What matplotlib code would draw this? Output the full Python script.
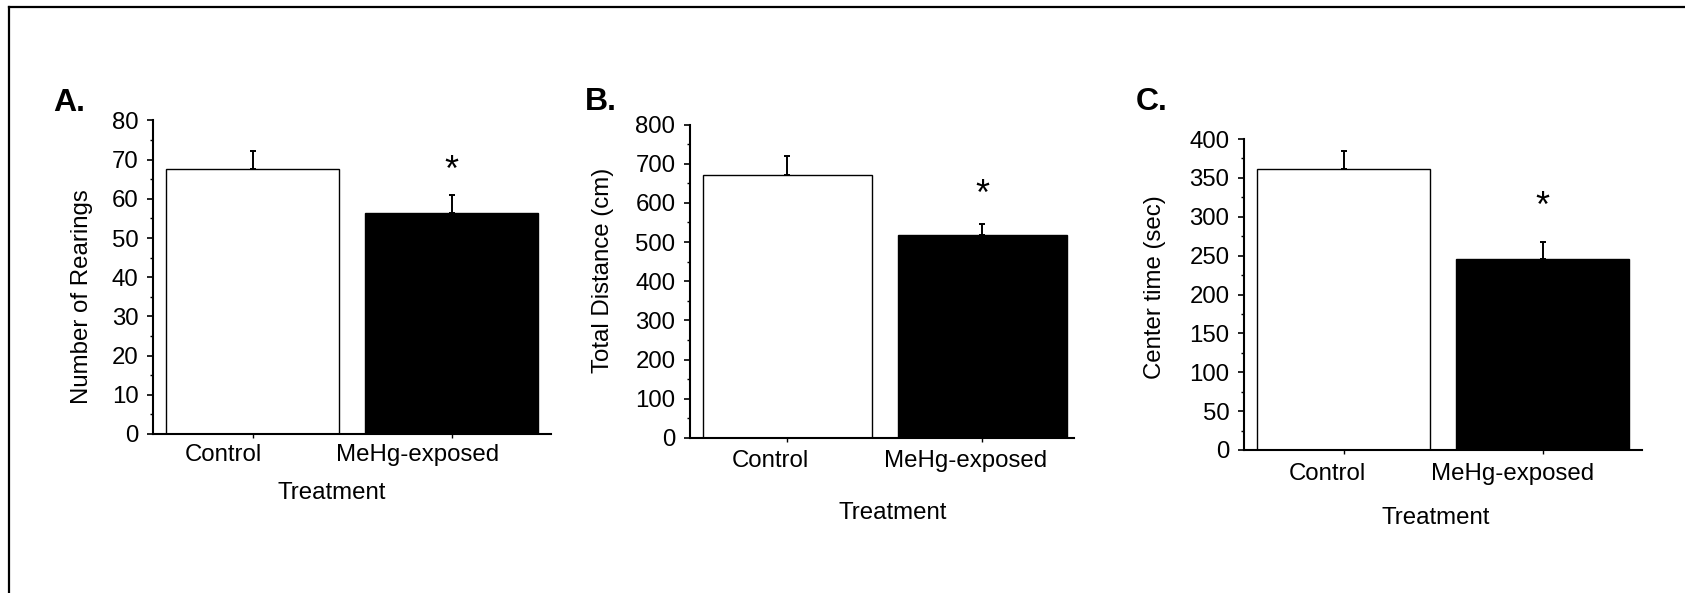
import numpy as np
import matplotlib
matplotlib.use('Agg')
import matplotlib.pyplot as plt
from matplotlib.lines import Line2D
from matplotlib.ticker import MultipleLocator

plt.rcParams['font.family'] = ['Liberation Sans', 'DejaVu Sans']

# data
groups = ["Control", "MeHg-exposed"]
rearings = [67.5, 56.4]
rearings_err = [4.6, 4.7]
distance = [670, 518]
distance_err = [49, 29]
center_time = [361, 246]
center_time_err = [24, 21]
star_y = [68.6, 637, 321]

panels = ["A.", "B.", "C."]
ylabels = ["Number of Rearings", "Total Distance (cm)", "Center time (sec)"]
ymax = [80, 800, 400]
ystep = [10, 100, 50]

W, H = 1685, 593
fig = plt.figure(figsize=(W / 100, H / 100), dpi=100)

def px_axes(left, right, top, bottom):
    return fig.add_axes([left / W, (H - bottom) / H, (right - left) / W, (bottom - top) / H])

# axes boxes in pixels (left, right, top, bottom)
boxes = [(153, 551, 120.5, 434), (690, 1074, 124.5, 438), (1244, 1642, 139, 450)]
xright = [1.5, 1.47, 1.5]
ylab_pos = [(81.7, 296.7), (602.5, 270.8), (1155, 287.5)]
xlab_pos = [(332, 499), (893, 519), (1436, 524)]
letter_pos = [(53, 110.7), (585, 110.3), (1136, 110.3)]
xtick_pad = [7.5, 8.5, 9.5]
# the category labels sit left of their ticks in the original (pixels)
label_shift = [(-29, -34), (-17, -17), (-16, -30)]

means = [rearings, distance, center_time]
errs = [rearings_err, distance_err, center_time_err]
fs = 17.3

for i in range(3):
    ax = px_axes(*boxes[i])
    x = np.arange(len(groups))
    ax.bar(x, means[i], width=0.87, color=['white', 'black'], edgecolor='black', linewidth=1.0, zorder=2)
    ax.errorbar(x, means[i], yerr=[[0, 0], errs[i]], fmt='none', ecolor='black', elinewidth=1.4, capsize=2.5, capthick=1.4, zorder=3)
    ax.annotate('*', xy=(1.0, star_y[i]), xytext=(0, -0.45 * 26), textcoords='offset points', ha='center', va='baseline', fontsize=26)

    ax.set_xlim(-0.5, xright[i])
    ax.set_ylim(0, ymax[i])
    ax.yaxis.set_major_locator(MultipleLocator(ystep[i]))
    ax.yaxis.set_minor_locator(MultipleLocator(ystep[i] / 2))

    # ticks at the bar centres, labels on invisible minor ticks slightly to the left
    px_per_unit = (boxes[i][1] - boxes[i][0]) / (xright[i] + 0.5)
    ax.set_xticks(x)
    ax.set_xticklabels([])
    ax.set_xticks(x + np.array(label_shift[i]) / px_per_unit, minor=True)
    ax.set_xticklabels(groups, minor=True)

    for s in ['top', 'right']:
        ax.spines[s].set_visible(False)
    for s in ['left', 'bottom']:
        ax.spines[s].set_linewidth(1.5)
    ax.tick_params(axis='y', which='major', direction='out', length=4, width=1.2, pad=6.5, labelsize=fs)
    ax.tick_params(axis='y', which='minor', direction='out', length=2, width=1.0)
    ax.tick_params(axis='x', which='major', direction='out', length=3, width=1.0)
    ax.tick_params(axis='x', which='minor', length=0, pad=xtick_pad[i], labelsize=fs)

    fig.text(ylab_pos[i][0] / W, 1 - ylab_pos[i][1] / H, ylabels[i], rotation=90, ha='center', va='center', fontsize=fs)
    fig.text(xlab_pos[i][0] / W, 1 - xlab_pos[i][1] / H, "Treatment", ha='center', va='baseline', fontsize=fs)
    fig.text(letter_pos[i][0] / W, 1 - letter_pos[i][1] / H, panels[i], ha='left', va='baseline', fontsize=23, fontweight='bold')

# partial frame around the figure (left and top edges only)
fig.add_artist(Line2D([9 / W, 9 / W], [0, 1 - 6.5 / H], color='black', linewidth=1.6))
fig.add_artist(Line2D([9 / W, 1], [1 - 6.5 / H, 1 - 6.5 / H], color='black', linewidth=1.6))

plt.savefig("out.png", dpi=100)
